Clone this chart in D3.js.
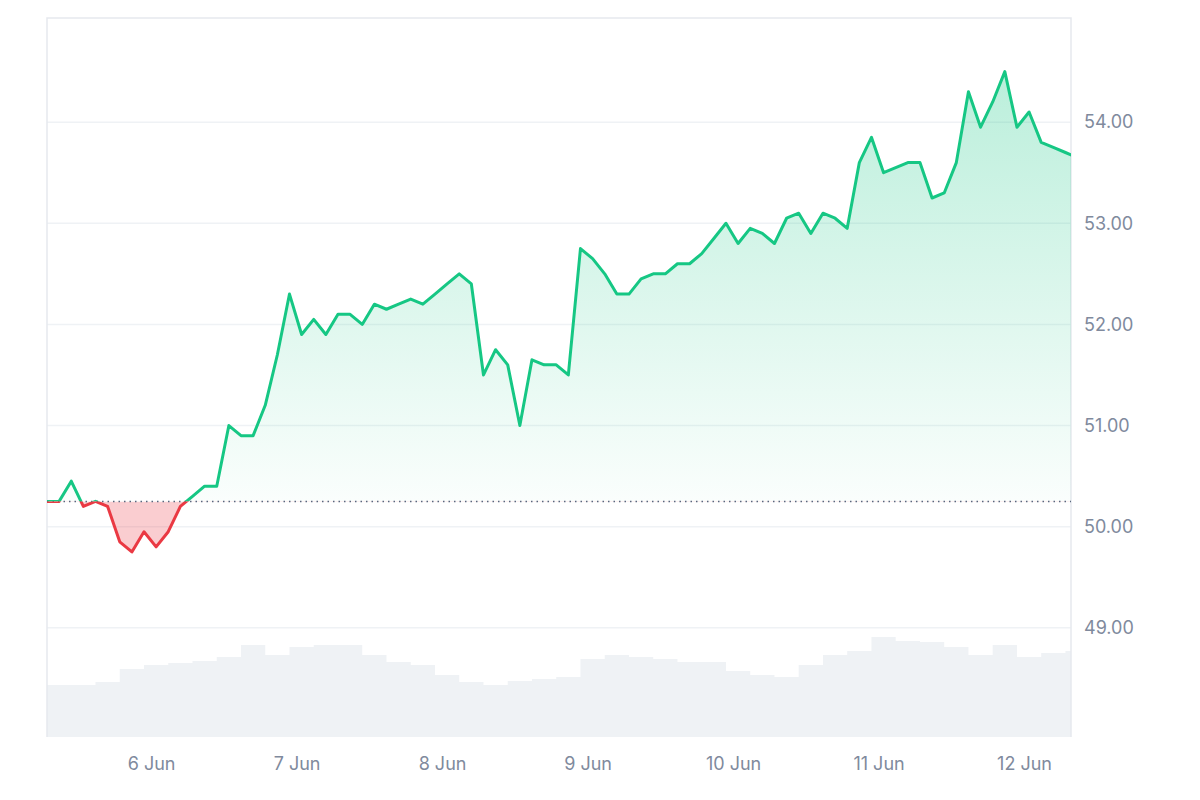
<!DOCTYPE html>
<html><head><meta charset="utf-8">
<script src="https://cdn.jsdelivr.net/npm/d3@7"></script>
<style>body{margin:0;background:#fff}text{font-family:Inter,"Noto Sans",sans-serif}</style>
</head><body><svg id="c" width="1200" height="800"></svg>
<script>
const startTime = "2024-06-05T06:50";
const stepHours = 2;
const prices = [50.25,50.25,50.45,50.2,50.25,50.2,49.85,49.75,49.95,49.8,49.95,50.2,50.3,50.4,50.4,51.0,50.9,50.9,51.2,51.7,52.3,51.9,52.05,51.9,52.1,52.1,52.0,52.2,52.15,52.2,52.25,52.2,52.3,52.4,52.5,52.4,51.5,51.75,51.6,51.0,51.65,51.6,51.6,51.5,52.75,52.65,52.5,52.3,52.3,52.45,52.5,52.5,52.6,52.6,52.7,52.85,53.0,52.8,52.95,52.9,52.8,53.05,53.1,52.9,53.1,53.05,52.95,53.6,53.85,53.5,53.55,53.6,53.6,53.25,53.3,53.6,54.3,53.95,54.2,54.5,53.95,54.1,53.8,53.75,53.7,53.65];
const volStepHours = 4;
const volumes = [52,52,55,68,72,74,76,80,92,82,90,92,92,82,75,72,62,55,52,56,58,60,78,82,80,78,75,75,66,62,60,72,82,86,100,96,95,90,82,92,80,84,86,88];
const baseline = 50.25;
const yTicks = [49,50,51,52,53,54];
const xTicks = ["2024-06-06","2024-06-07","2024-06-08","2024-06-09","2024-06-10","2024-06-11","2024-06-12"];

const L=47,R=1071,T=18,B=737;
const svg=d3.select("#c");
const t0=new Date(startTime);
const pts=prices.map((v,i)=>({t:new Date(+t0+i*stepHours*3600e3),v}));
const vpts=volumes.map((v,i)=>({t:new Date(+t0+i*volStepHours*3600e3),v}));
const x=d3.scaleTime().domain([t0,new Date("2024-06-12T07:45")]).range([L,R]);
const y=d3.scaleLinear().domain([47.92,55.03]).range([B,T]);
const yv=d3.scaleLinear().domain([0,B-T]).range([B,T]);

const defs=svg.append("defs");
const g=defs.append("linearGradient").attr("id","gg").attr("x1",0).attr("x2",0)
 .attr("gradientUnits","userSpaceOnUse").attr("y1",y(54.6)).attr("y2",y(baseline));
g.append("stop").attr("offset",0).attr("stop-color","#16c784").attr("stop-opacity",0.3);
g.append("stop").attr("offset",1).attr("stop-color","#16c784").attr("stop-opacity",0.02);
defs.append("clipPath").attr("id","plot").append("rect").attr("x",L).attr("y",T).attr("width",R-L).attr("height",B-T);
defs.append("clipPath").attr("id","above").append("rect").attr("x",L).attr("y",T).attr("width",R-L).attr("height",y(baseline)-T);
defs.append("clipPath").attr("id","below").append("rect").attr("x",L).attr("y",y(baseline)).attr("width",R-L).attr("height",B-y(baseline));

svg.selectAll(".gl").data(yTicks).join("line").attr("x1",L).attr("x2",R).attr("y1",d=>y(d)).attr("y2",d=>y(d)).attr("stroke","#eff2f5").attr("stroke-width",1.5);
svg.append("path").datum(vpts).attr("d",d3.area().curve(d3.curveStepAfter).x(d=>x(d.t)).y0(B).y1(d=>yv(d.v))).attr("fill","#eff2f5").attr("clip-path","url(#plot)");
svg.append("path").attr("d",`M${L},${B}V${T}H${R}V${B}`).attr("fill","none").attr("stroke","#e6e9ee").attr("stroke-width",1.5);

const area=d3.area().x(d=>x(d.t)).y0(y(baseline)).y1(d=>y(d.v));
const line=d3.line().x(d=>x(d.t)).y(d=>y(d.v));
svg.append("path").datum(pts).attr("d",area).attr("fill","url(#gg)").attr("clip-path","url(#above)");
svg.append("path").datum(pts).attr("d",area).attr("fill","#ea3943").attr("fill-opacity",0.25).attr("clip-path","url(#below)");
svg.append("line").attr("x1",L).attr("x2",R).attr("y1",y(baseline)).attr("y2",y(baseline)).attr("stroke","#58667e").attr("stroke-dasharray","1.5,4").attr("stroke-width",1.5);
svg.append("path").datum(pts).attr("d",line).attr("fill","none").attr("stroke","#16c784").attr("stroke-width",3).attr("stroke-linejoin","round").attr("clip-path","url(#above)");
svg.append("path").datum(pts).attr("d",line).attr("fill","none").attr("stroke","#ea3943").attr("stroke-width",3).attr("stroke-linejoin","round").attr("clip-path","url(#below)");

const ya=svg.append("g").attr("transform",`translate(${R+10},0)`).call(d3.axisRight(y).tickValues(yTicks).tickFormat(d3.format(".2f")).tickSize(0));
const xa=svg.append("g").attr("transform",`translate(0,${B+8})`).call(d3.axisBottom(x).tickValues(xTicks.map(d=>new Date(d+"T00:00"))).tickFormat(d3.timeFormat("%-d Jun")).tickSize(0));
[ya,xa].forEach(a=>{a.select(".domain").remove();a.selectAll("text").attr("fill","#808a9d").style("font-size","18px");});
xa.selectAll("text").attr("dy","1.2em");
</script></body></html>
